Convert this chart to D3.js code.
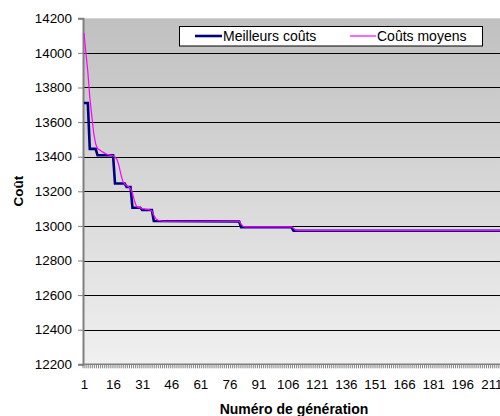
<!DOCTYPE html>
<html><head><meta charset="utf-8">
<script src="https://cdn.jsdelivr.net/npm/d3@7"></script>
<style>html,body{margin:0;padding:0;background:#fff;}svg{display:block;}</style>
</head><body>
<svg id="chart" width="500" height="416"></svg>
<script>
// ---- data ----
const seriesNames = ["Meilleurs coûts", "Coûts moyens"];
const nGenerations = 250;
const xTickLabels = [1,16,31,46,61,76,91,106,121,136,151,166,181,196,211];
const yTicks = [12200,12400,12600,12800,13000,13200,13400,13600,13800,14000,14200];
// best cost: generation where the value is read, value
const bestGen  = [1,3,4,7,8,16,17,22,23,25,26,30,31,36,37,81,82,108,109,250];
const bestCost = [13710,13710,13445,13445,13408,13408,13245,13245,13225,13225,13105,13105,13092,13092,13028,13025,12992,12992,12972,12972];
// mean cost
const meanGen  = [1,2,3,4,5,6,7,8,9,10,11,12,13,14,15,16,17,18,19,20,21,22,23,24,25,26,27,28,29,30,31,32,33,34,35,36,37,38,39,40,42,81,82,83,84,108,109,110,111,250];
const meanCost = [14115,14000,13890,13745,13640,13537,13475,13447,13440,13432,13425,13418,13414,13411,13408,13405,13398,13385,13350,13300,13258,13242,13234,13226,13215,13190,13145,13115,13107,13104,13100,13098,13096,13094,13092,13086,13062,13042,13034,13030,13027,13027,13010,12998,12994,12994,12988,12976,12974,12974];

(function () {
// ---- layout ----
const svg = d3.select("#chart");
const pLeft = 83, pTop = 18.3, pBottom = 364.3, pxPerGen = 1.94;
const pRight = pLeft + nGenerations * pxPerGen;
const font = "'Liberation Sans', Arial, sans-serif";

const x = d3.scaleLinear().domain([0.5, nGenerations + 0.5]).range([pLeft, pRight]);
const y = d3.scaleLinear().domain([12200, 14200]).range([pBottom, pTop]);

const defs = svg.append("defs");
const grad = defs.append("linearGradient").attr("id", "bg").attr("x1", 0).attr("y1", 0).attr("x2", 0).attr("y2", 1);
grad.append("stop").attr("offset", "0%").attr("stop-color", "#c0c0c0");
grad.append("stop").attr("offset", "100%").attr("stop-color", "#f0f0f0");

svg.append("rect").attr("x", pLeft).attr("y", pTop).attr("width", pRight - pLeft).attr("height", pBottom - pTop).attr("fill", "url(#bg)");

// gridlines
svg.append("g").selectAll("line").data(yTicks.filter(v => v > 12200 && v < 14200)).join("line")
  .attr("x1", pLeft).attr("x2", pRight)
  .attr("y1", d => Math.round(y(d)) + 0.5).attr("y2", d => Math.round(y(d)) + 0.5)
  .attr("stroke", "#000").attr("stroke-width", 1);

// y axis
const yAxis = d3.axisLeft(y).tickValues(yTicks).tickSize(5).tickPadding(6).tickFormat(d3.format("d"));
const gy = svg.append("g").attr("transform", `translate(${pLeft},0)`).call(yAxis);
gy.select(".domain").attr("stroke", "#808080").attr("stroke-width", 2);
gy.selectAll(".tick line").attr("stroke", "#808080");
gy.selectAll(".tick text").attr("font-family", font).attr("font-size", 13.4).attr("fill", "#000");

// x axis: category boundary ticks
const boundaries = d3.range(0, nGenerations + 1).map(i => i + 0.5);
svg.append("g").selectAll("line").data(boundaries).join("line")
  .attr("x1", d => x(d)).attr("x2", d => x(d))
  .attr("y1", pBottom).attr("y2", pBottom + 4)
  .attr("stroke", "#666").attr("stroke-width", 0.8);
svg.append("line").attr("x1", pLeft).attr("x2", pRight).attr("y1", pBottom).attr("y2", pBottom)
  .attr("stroke", "#808080").attr("stroke-width", 1.5);
const xAxis = d3.axisBottom(x).tickValues(xTickLabels).tickSize(0).tickPadding(15).tickFormat(d3.format("d"));
const gx = svg.append("g").attr("transform", `translate(0,${pBottom})`).call(xAxis);
gx.select(".domain").remove();
gx.selectAll(".tick text").attr("font-family", font).attr("font-size", 13.4).attr("fill", "#000");

// lines
const bestData = bestGen.map((g, i) => [g, bestCost[i]]);
const meanData = meanGen.map((g, i) => [g, meanCost[i]]);
const line = d3.line().x(d => x(d[0])).y(d => y(d[1]));
svg.append("path").datum(bestData).attr("d", line).attr("fill", "none")
  .attr("stroke", "#000080").attr("stroke-width", 2.6).attr("stroke-linejoin", "miter");
svg.append("path").datum(meanData).attr("d", line).attr("fill", "none")
  .attr("stroke", "#ff00ff").attr("stroke-width", 1.2);

// legend
svg.append("rect").attr("x", 179.5).attr("y", 26.5).attr("width", 303).attr("height", 19.5)
  .attr("fill", "#fff").attr("stroke", "#000").attr("stroke-width", 1);
svg.append("line").attr("x1", 195).attr("x2", 222).attr("y1", 36).attr("y2", 36).attr("stroke", "#000080").attr("stroke-width", 2.6);
svg.append("text").attr("x", 223).attr("y", 41).attr("font-family", font).attr("font-size", 14).text(seriesNames[0]);
svg.append("line").attr("x1", 350).attr("x2", 376).attr("y1", 36).attr("y2", 36).attr("stroke", "#ff00ff").attr("stroke-width", 1.2);
svg.append("text").attr("x", 377).attr("y", 41).attr("font-family", font).attr("font-size", 14).text(seriesNames[1]);

// axis titles
svg.append("text").attr("transform", "translate(23,191) rotate(-90)").attr("text-anchor", "middle")
  .attr("font-family", font).attr("font-weight", "bold").attr("font-size", 13.5).text("Coût");
svg.append("text").attr("x", 294).attr("y", 414).attr("text-anchor", "middle")
  .attr("font-family", font).attr("font-weight", "bold").attr("font-size", 14).text("Numéro de génération");
})();
</script>
</body></html>
